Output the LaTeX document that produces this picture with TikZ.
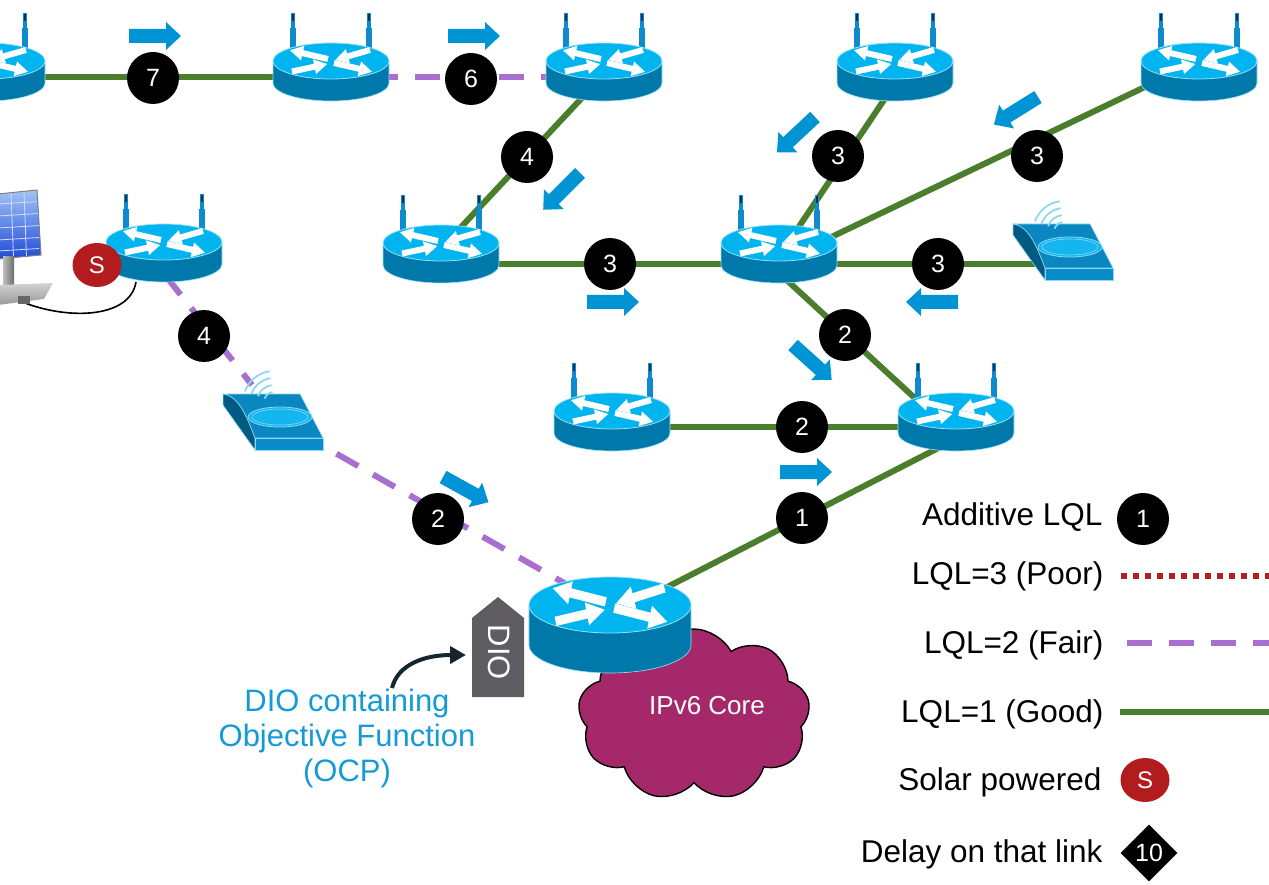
\documentclass[tikz,border=0pt]{standalone}
\usepackage{fontspec}
\setmainfont{Liberation Sans}
\usetikzlibrary{calc,shapes.geometric,shapes.symbols,arrows.meta}

\definecolor{linkgood}{RGB}{74,125,44}
\definecolor{linkfair}{RGB}{168,111,207}
\definecolor{linkpoor}{RGB}{180,30,30}
\definecolor{flowblue}{RGB}{0,148,212}
\definecolor{rtop}{RGB}{0,180,240}
\definecolor{rside}{RGB}{0,121,170}
\definecolor{rrim}{RGB}{150,224,250}
\definecolor{antblue}{RGB}{14,138,206}
\definecolor{antdark}{RGB}{10,50,80}
\definecolor{devtop}{RGB}{10,134,192}
\definecolor{devleft}{RGB}{0,90,130}
\definecolor{devfront}{RGB}{10,140,203}
\definecolor{devdisc}{RGB}{20,182,240}
\definecolor{wave}{RGB}{140,215,245}
\definecolor{solarred}{RGB}{178,28,30}
\definecolor{tagGray}{RGB}{95,93,98}
\definecolor{cloudfill}{RGB}{164,40,106}
\definecolor{ocptext}{RGB}{20,155,215}
\definecolor{curvearrow}{RGB}{22,38,48}
\definecolor{panelTop}{RGB}{160,195,245}
\definecolor{panelBot}{RGB}{30,75,215}

\pgfdeclarelayer{links}
\pgfsetlayers{links,main}

% white arrow on a router top: start point, direction (degrees), length
\newcommand{\toparrow}[4]{%
  \fill[white,shift={(#1,#2)},rotate=#3] (0,-3) -- (#4-13,-3) -- (#4-13,-7.5) -- (#4,0) -- (#4-13,7.5) -- (#4-13,3) -- (0,3) -- cycle;}

% Router: name, centre of the top face (x,y), x-scale, y-scale, body depth, antennas (1/0)
\newcommand{\netrouter}[7]{%
  \coordinate (#1) at (#2,#3);
  \begin{scope}[shift={(#2,#3)},xscale=#4,yscale=#5]
    \ifnum#7=1
      \foreach \s in {-38,38}{%
        \fill[antblue] (\s-3,-33) rectangle (\s+3,-4);
        \fill[antblue] (\s-1.8,-48) rectangle (\s+1.8,-33);
        \fill[antdark] (\s-1,-47) rectangle (\s+1,-40);
      }%
    \fi
    \filldraw[fill=rside,draw=rrim,line width=0.6] (-58,0) -- (-58,#6)
      arc[start angle=180,end angle=0,x radius=58,y radius=18] -- (58,0) -- cycle;
    \filldraw[fill=rtop,draw=rrim,line width=0.8] (0,0) ellipse[x radius=58,y radius=18];
    \toparrow{-3}{-2}{167}{39}
    \toparrow{3}{2}{-13}{39}
    \toparrow{39}{-11}{196}{36}
    \toparrow{-39}{10.5}{12}{36}
  \end{scope}}

% Wireless sensor: name, upper-left corner (x,y)
\newcommand{\sensor}[3]{%
  \coordinate (#1) at (#2,#3);
  \begin{scope}[shift={(#2,#3)}]
    \filldraw[fill=devleft,draw=wave,line width=0.6] (13,34) .. controls (30,36) and (38,60) .. (45,78) -- (45,90) -- (13,45) -- cycle;
    \filldraw[fill=devtop,draw=wave,line width=0.6] (13,34) -- (90,34) -- (113,78) -- (45,78) .. controls (38,60) and (30,36) .. (13,34) -- cycle;
    \filldraw[fill=devfront,draw=wave,line width=0.6] (45,78) rectangle (113,90);
    \filldraw[fill=devdisc,draw=wave,line width=0.8] (70,57) ellipse[x radius=32,y radius=10];
    \draw[wave,line width=0.6] (70,57) ellipse[x radius=28,y radius=8];
    \foreach \r in {10,17,24,31}
      \draw[wave,line width=1.8] ([shift={(200:\r)}]64,42) arc[start angle=200,end angle=262,radius=\r];
  \end{scope}}

% Flow direction arrow: name, tail (x,y), direction in degrees
\newcommand{\flowarrow}[4]{%
  \coordinate (#1) at (#2,#3);
  \fill[flowblue,shift={(#2,#3)},rotate=#4] (0,-7) -- (37,-7) -- (37,-14) -- (52,0) -- (37,14) -- (37,7) -- (0,7) -- cycle;}

\begin{document}
\begin{tikzpicture}[x=1pt,y=-1pt,
  good/.style={linkgood,line width=6},
  fair/.style={linkfair,line width=6,dash pattern=on 25pt off 17pt},
  poor/.style={linkpoor,line width=5.5,dash pattern=on 5.5pt off 6.5pt},
  lql/.style={circle,fill=black,minimum size=52,inner sep=0,text=white,font=\fontsize{25}{25}\selectfont},
  solarmark/.style={ellipse,fill=solarred,minimum width=49,minimum height=44,inner sep=0,text=white,font=\fontsize{24}{24}\selectfont},
  legendtext/.style={anchor=base east,font=\fontsize{31.5}{36}\selectfont}]
\clip (0,0) rectangle (1269,885);

% IPv6 core cloud
\node[cloud,cloud puffs=9,cloud puff arc=125,aspect=1.35,fill=cloudfill,draw=black,line width=1.4,
      minimum width=232,minimum height=172,inner sep=0] (core) at (694,715) {};
\node[text=white,font=\fontsize{26}{26}\selectfont] (coretext) at (707,706) {IPv6 Core};

% routers
\netrouter{r1}{-13}{61}{1}{1}{22}{1}
\netrouter{r2}{331}{61}{1}{1}{22}{1}
\netrouter{r3}{604}{61}{1}{1}{22}{1}
\netrouter{r4}{895}{61}{1}{1}{22}{1}
\netrouter{r5}{1199}{61}{1}{1}{22}{1}
\netrouter{r6}{164}{242}{1}{1}{22}{1}
\netrouter{r7}{441}{243}{1}{1}{22}{1}
\netrouter{r8}{779}{243}{1}{1}{22}{1}
\netrouter{r9}{612}{411}{1}{1}{22}{1}
\netrouter{r10}{956}{411}{1}{1}{22}{1}
\netrouter{r11}{610}{605}{1.397}{1.556}{25.7}{0}

% wireless sensors
\sensor{w1}{210}{360}
\sensor{w2}{1000}{190}

% solar panel on its stand
\coordinate (plug) at (25,303);
\shade[top color=panelTop,bottom color=panelBot] (-2,194) -- (37,190) -- (41,255) -- (-2,259) -- cycle;
\foreach \gx in {11,24}
  \draw[white!85!blue,line width=0.8] (\gx,192) -- (\gx+2.5,257);
\foreach \gy in {203,215,227,239,250}
  \draw[white!85!blue,line width=0.8] (-2,\gy+1) -- (39,\gy-1.5);
\draw[gray,line width=1] (-2,194) -- (37,190) -- (41,255) -- (-2,259);
\shade[left color=gray!50,right color=gray!85!black] (3,257) rectangle (14,286);
\shade[top color=gray!35,bottom color=gray!80] (-2,285) -- (53,283) -- (44,299) -- (-2,305) -- cycle;
\fill[gray!80!black] (18,296) rectangle (30,304);

% links (under the devices)
\begin{pgfonlayer}{links}
  \draw[good] ($(r1)+(0,16)$) -- ($(r2)+(0,16)$);
  \draw[fair] ($(r2)+(0,16)$) -- ($(r3)+(0,16)$);
  \draw[good] ($(r3)+(-10,24)$) -- ($(r7)+(8,-3)$);
  \draw[good] ($(r7)+(0,21)$) -- ($(r8)+(0,21)$);
  \draw[good] ($(r4)+(-1,24)$) -- ($(r8)+(11,-3)$);
  \draw[good] ($(r5)+(-29,14)$) -- ($(r8)+(21,9)$);
  \draw[good] ($(r8)+(0,21)$) -- ($(w2)+(60,74)$);
  \draw[good] ($(r8)+(0,30)$) -- ($(r10)+(0,25)$);
  \draw[good] ($(r9)+(0,16)$) -- ($(r10)+(0,16)$);
  \draw[good] ($(r10)+(-6,31)$) -- ($(r11)+(30,-4)$);
  \draw[fair] ($(r6)+(1,33)$) -- ($(w1)+(42,25)$);
  \draw[fair] ($(w1)+(90,73)$) -- ($(r11)+(-30,-13)$);
  \draw[line width=1.6] (plug) .. controls (70,320) and (130,318) .. ($(r6)+(-28,40)$);
\end{pgfonlayer}

% additive LQL values
\node[lql] (c7)  at (153,78)  {7};
\node[lql] (c6)  at (471,79)  {6};
\node[lql] (c4a) at (527,157) {4};
\node[lql] (c3a) at (610,264) {3};
\node[lql] (c3b) at (838,156) {3};
\node[lql] (c3c) at (1037,156) {3};
\node[lql] (c3d) at (938,264) {3};
\node[lql] (c2a) at (845,335) {2};
\node[lql] (c2b) at (802,427) {2};
\node[lql] (c1)  at (802,518) {1};
\node[lql] (c4b) at (204,336) {4};
\node[lql] (c2c) at (438,519) {2};

% solar powered marker
\node[solarmark] (smark) at (97,265) {S};

% flow direction
\flowarrow{f1}{129}{36}{0}
\flowarrow{f2}{448}{36}{0}
\flowarrow{f3}{580}{173}{225}
\flowarrow{f4}{815}{117}{223}
\flowarrow{f5}{1038}{97}{212}
\flowarrow{f6}{587}{302}{0}
\flowarrow{f7}{958}{302}{180}
\flowarrow{f8}{793}{345}{318}
\flowarrow{f9}{780}{472}{0}
\flowarrow{f10}{443}{477}{331}

% DIO message tag and its caption
\fill[tagGray] (472,618) -- (498,597) -- (524,618) -- (524,697) -- (472,697) -- cycle;
\node[rotate=-90,text=white,font=\fontsize{31}{31}\selectfont] (diolabel) at (499.5,652.5) {DIO};
\node[align=center,text=ocptext,font=\fontsize{31}{35}\selectfont] (ocp) at (347,738)
  {DIO containing\\Objective Function\\(OCP)};
\coordinate (ocpfrom) at (392,688);
\coordinate (ocpto) at (466,655);
\draw[curvearrow,line width=4,-{Triangle[length=16pt,width=17pt]}] (ocpfrom) .. controls (398,664) and (425,655) .. (ocpto);

% legend
\node[legendtext] (lgadd) at (1106,525) {Additive LQL};
\node[lql] (lgc) at (1143,519) {1};
\node[legendtext] (lgpoor) at (1107,584) {LQL=3 (Poor)};
\coordinate (poorA) at (1121,576); \coordinate (poorB) at (1275,576);
\draw[poor] (poorA) -- (poorB);
\node[legendtext] (lgfair) at (1107,653) {LQL=2 (Fair)};
\coordinate (fairA) at (1127,643); \coordinate (fairB) at (1275,643);
\draw[fair] (fairA) -- (fairB);
\node[legendtext] (lggood) at (1107,722) {LQL=1 (Good)};
\coordinate (goodA) at (1120,712); \coordinate (goodB) at (1275,712);
\draw[good] (goodA) -- (goodB);
\node[legendtext] (lgsolar) at (1105,790) {Solar powered};
\node[solarmark] (lgs) at (1145,780) {S};
\node[legendtext] (lgdelay) at (1106,862) {Delay on that link};
\node[diamond,fill=black,minimum size=57,inner sep=0,text=white,font=\fontsize{25}{25}\selectfont] (lgd) at (1149,853) {10};
\end{tikzpicture}
\end{document}
